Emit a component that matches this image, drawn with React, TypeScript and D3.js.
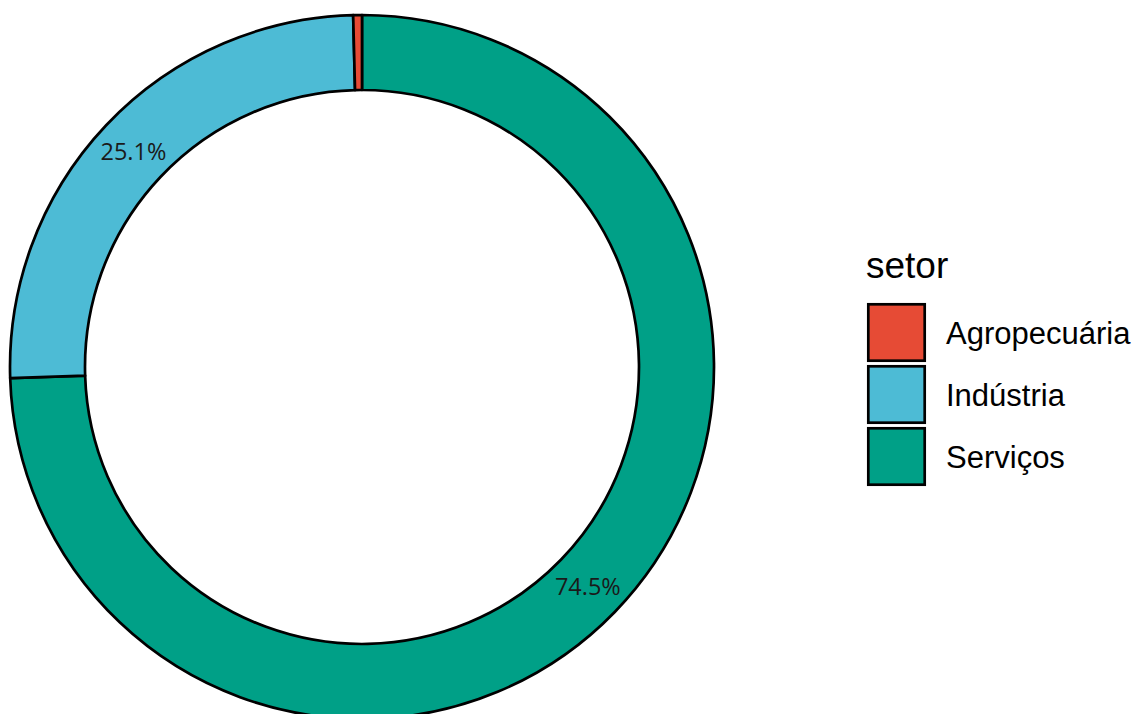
import React from "react";
import * as d3 from "d3";

const setores = ["Agropecuária", "Indústria", "Serviços"];
const participacao = [0.4, 25.1, 74.5];
const cores = ["#E64B35", "#4DBBD5", "#00A087"];

const W = 1138;
const H = 714;
const cx = 362;
const cy = 367;
const rOuter = 352;
const rInner = 277;

export default function App() {
  // Serviços starts at 12 o'clock and runs clockwise, then Indústria, then Agropecuária
  const ordem = [2, 1, 0];
  const total = d3.sum(participacao);
  const angle = d3.scaleLinear().domain([0, total]).range([0, 2 * Math.PI]);
  let acc = 0;
  const slices = ordem.map((i) => {
    const start = acc;
    acc += participacao[i];
    return { i, startAngle: angle(start), endAngle: angle(acc) };
  });
  const arc = d3.arc<any>().innerRadius(rInner).outerRadius(rOuter);
  const rMid = (rInner + rOuter) / 2;

  const keySize = 59;
  const keyStep = 62;
  const legX = 867;
  const legY = 303;

  return (
    <svg width={W} height={H} style={{ position: "absolute", left: 0, top: 0 }}>
      <rect width={W} height={H} fill="#fff" />
      <g transform={`translate(${cx},${cy})`}>
        {slices.map((s) => (
          <path
            key={s.i}
            d={arc(s) as string}
            fill={cores[s.i]}
            stroke="#000"
            strokeWidth={2.7}
            strokeLinejoin="round"
          />
        ))}
        {slices
          .filter((s) => participacao[s.i] > 5)
          .map((s) => {
            const a = (s.startAngle + s.endAngle) / 2;
            return (
              <text
                key={s.i}
                x={rMid * Math.sin(a)}
                y={-rMid * Math.cos(a)}
                textAnchor="middle"
                dominantBaseline="central"
                fontFamily="'Open Sans', 'Noto Sans', sans-serif"
                fontSize={23.5}
                fill="#1a1a1a"
              >
                {participacao[s.i].toFixed(1)}%
              </text>
            );
          })}
      </g>
      <text
        x={legX - 1}
        y={278}
        fontFamily="'Liberation Sans', Arial, sans-serif"
        fontSize={37}
        fill="#000"
      >
        setor
      </text>
      {setores.map((nome, i) => {
        const y = legY + i * keyStep;
        return (
          <g key={nome}>
            <rect
              x={legX + 1.3}
              y={y + 1.3}
              width={keySize - 2.6}
              height={keySize - 2.6}
              fill={cores[i]}
              stroke="#000"
              strokeWidth={2.7}
            />
            <text
              x={946}
              y={y + keySize / 2 + 11.5}
              fontFamily="'Liberation Sans', Arial, sans-serif"
              fontSize={31}
              fill="#000"
            >
              {nome}
            </text>
          </g>
        );
      })}
    </svg>
  );
}
